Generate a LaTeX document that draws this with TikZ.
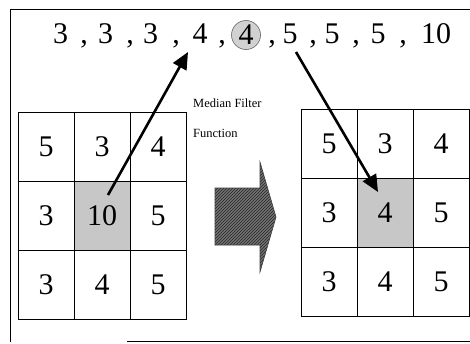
\documentclass[tikz,border=0pt]{standalone}
\usepackage{fontspec}
\setmainfont{Liberation Serif}
\usetikzlibrary{arrows.meta,patterns}
\begin{document}
\begin{tikzpicture}[x=1pt,y=-1pt,
  big/.style={font=\fontsize{30}{36}\selectfont},
  tok/.style={big,anchor=base,inner sep=0pt},
  cellbox/.style={draw=black,line width=0.8pt,minimum width=56pt,minimum height=69pt,inner sep=0pt,big},
  shaded/.style={cellbox,fill=black!22},
  small/.style={font=\fontsize{12.5}{14}\selectfont,anchor=west,inner sep=0pt},
  pointer/.style={line width=2.6pt,-{Triangle[length=17pt,width=15pt]}},
  blockarrow/.style={draw=black!75,line width=0.6pt,preaction={fill=black!55},pattern=north east lines,pattern color=black!85},
  frame/.style={draw=black,line width=0.8pt}
]
\useasboundingbox[fill=white] (0,0) rectangle (470,343);
% frame
\draw[frame] (470,9) -- (10,9) -- (10,342);
\draw[frame] (127,341) -- (470,341);
% top sequence
\node[tok] (t1) at (60.5,43) {3};
\node[tok] (c1) at (84,43) {,};
\node[tok] (t2) at (105.5,43) {3};
\node[tok] (c2) at (130,43) {,};
\node[tok] (t3) at (150.5,43) {3};
\node[tok] (c3) at (176,43) {,};
\node[tok] (t4) at (200,43) {4};
\node[tok] (c4) at (222,43) {,};
\node[circle,draw=black!60,line width=0.6pt,fill=black!18,minimum size=29pt,inner sep=0pt,big] (t5) at (246,35) {4};
\node[tok] (c5) at (272,43) {,};
\node[tok] (t6) at (290,43) {5};
\node[tok] (c6) at (313,43) {,};
\node[tok] (t7) at (332,43) {5};
\node[tok] (c7) at (356,43) {,};
\node[tok] (t8) at (378,43) {5};
\node[tok] (c8) at (403,43) {,};
\node[tok] (t9) at (436,43) {10};
% labels
\node[small] (lab1) at (193,103) {Median Filter};
\node[small] (lab2) at (193,133) {Function};
% left grid
\node[cellbox] (L11) at (46,147) {5};
\node[cellbox] (L12) at (102,147) {3};
\node[cellbox] (L13) at (158,147) {4};
\node[cellbox] (L21) at (46,216) {3};
\node[shaded] (L22) at (102,216) {10};
\node[cellbox] (L23) at (158,216) {5};
\node[cellbox] (L31) at (46,285) {3};
\node[cellbox] (L32) at (102,285) {4};
\node[cellbox] (L33) at (158,285) {5};
% right grid
\node[cellbox] (R11) at (329,144) {5};
\node[cellbox] (R12) at (385,144) {3};
\node[cellbox] (R13) at (441,144) {4};
\node[cellbox] (R21) at (329,213) {3};
\node[shaded] (R22) at (385,213) {4};
\node[cellbox] (R23) at (441,213) {5};
\node[cellbox] (R31) at (329,282) {3};
\node[cellbox] (R32) at (385,282) {4};
\node[cellbox] (R33) at (441,282) {5};
% block arrow
\path[blockarrow] (215,188) -- (260,188) -- (260,162) -- (276,217) -- (260,272) -- (260,245) -- (215,245) -- cycle;
% pointers
\coordinate (p1s) at (108,195);
\coordinate (p1e) at (188,52);
\coordinate (p2s) at (296,52);
\coordinate (p2e) at (378,192);
\draw[pointer] (p1s) -- (p1e);
\draw[pointer] (p2s) -- (p2e);
\end{tikzpicture}
\end{document}
